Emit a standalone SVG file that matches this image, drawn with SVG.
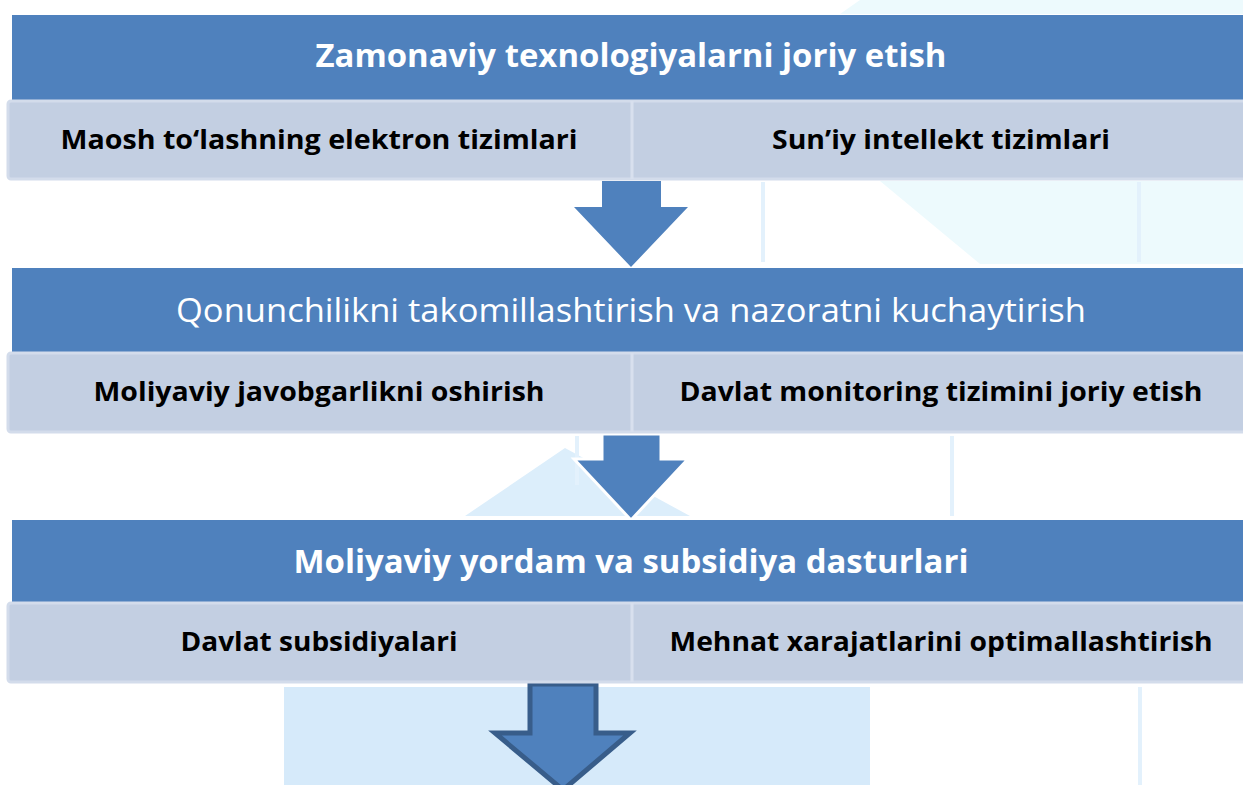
<svg xmlns="http://www.w3.org/2000/svg" width="1243" height="785" viewBox="0 0 1243 785">
<style>
.band{fill:#4F81BD}
.sub{fill:#C3CFE2;stroke:#D3DCEB;stroke-width:3}
.div{stroke:#D8E0EE;stroke-width:3}
.t{font-family:"Open Sans","Liberation Sans",sans-serif;fill:#fff;text-anchor:middle}
.s{font-family:"Open Sans","Liberation Sans",sans-serif;font-weight:bold;fill:#000;text-anchor:middle;font-size:27px}
.arrow{fill:#4F81BD}
.wm{fill:#EDFAFD}
.wl{stroke:#E3F1FC;stroke-width:4}
</style>
<g id="background">
<rect width="1243" height="785" fill="#FFFFFF"/>
<path class="wm" d="M860 0 L1243 0 L1243 14 L840 14 Z"/>
<path class="wm" d="M880 181 L1243 181 L1243 264 L980 264 Z"/>
<line class="wl" x1="763" y1="182" x2="763" y2="262"/>
<line class="wl" x1="1139" y1="182" x2="1139" y2="262"/>
<path d="M465 516 L565 448 L690 516 Z" fill="#DCEEFB"/>
<line class="wl" x1="577" y1="436" x2="577" y2="485"/>
<line class="wl" x1="952" y1="436" x2="952" y2="516"/>
<rect x="284" y="687" width="586" height="98" fill="#D6EAFA"/>
<line class="wl" x1="1140" y1="687" x2="1140" y2="785"/>
</g>
<g id="connectors">
<path class="arrow" d="M602 181 L661 181 L661 207 L688 207 L631 267 L574 207 L602 207 Z"/>
<path class="arrow" d="M602 434 L661 434 L661 459 L688 459 L631 520 L574 459 L602 459 Z" stroke="#FFFFFF" stroke-width="3"/>
<path class="arrow" d="M530 684 L596 684 L596 733 L630 733 L563 790 L495 733 L530 733 Z" stroke="#385D8A" stroke-width="5"/>
</g>
<g id="node1">
<rect class="band" x="12" y="15" width="1231" height="85"/>
<text class="t" x="631" y="67" font-size="33" font-weight="bold" textLength="631" lengthAdjust="spacingAndGlyphs">Zamonaviy texnologiyalarni joriy etish</text>
<rect class="sub" x="8" y="101" width="1240" height="78" rx="3"/>
<line class="div" x1="632" y1="101" x2="632" y2="179"/>
<text class="s" x="319" y="149" textLength="517" lengthAdjust="spacingAndGlyphs">Maosh to‘lashning elektron tizimlari</text>
<text class="s" x="941" y="149" textLength="338" lengthAdjust="spacingAndGlyphs">Sun’iy intellekt tizimlari</text>
</g>
<g id="node2">
<rect class="band" x="12" y="268" width="1231" height="84"/>
<text class="t" x="631" y="322" font-size="33" textLength="910" lengthAdjust="spacingAndGlyphs">Qonunchilikni takomillashtirish va nazoratni kuchaytirish</text>
<rect class="sub" x="8" y="353" width="1240" height="79" rx="3"/>
<line class="div" x1="632" y1="353" x2="632" y2="432"/>
<text class="s" x="319" y="401" textLength="451" lengthAdjust="spacingAndGlyphs">Moliyaviy javobgarlikni oshirish</text>
<text class="s" x="941" y="401" textLength="523" lengthAdjust="spacingAndGlyphs">Davlat monitoring tizimini joriy etish</text>
</g>
<g id="node3">
<rect class="band" x="12" y="520" width="1231" height="82"/>
<text class="t" x="631" y="573" font-size="33" font-weight="bold" textLength="675" lengthAdjust="spacingAndGlyphs">Moliyaviy yordam va subsidiya dasturlari</text>
<rect class="sub" x="8" y="603" width="1240" height="79" rx="3"/>
<line class="div" x1="632" y1="603" x2="632" y2="682"/>
<text class="s" x="319" y="651" textLength="277" lengthAdjust="spacingAndGlyphs">Davlat subsidiyalari</text>
<text class="s" x="941" y="651" textLength="543" lengthAdjust="spacingAndGlyphs">Mehnat xarajatlarini optimallashtirish</text>
</g>
</svg>
